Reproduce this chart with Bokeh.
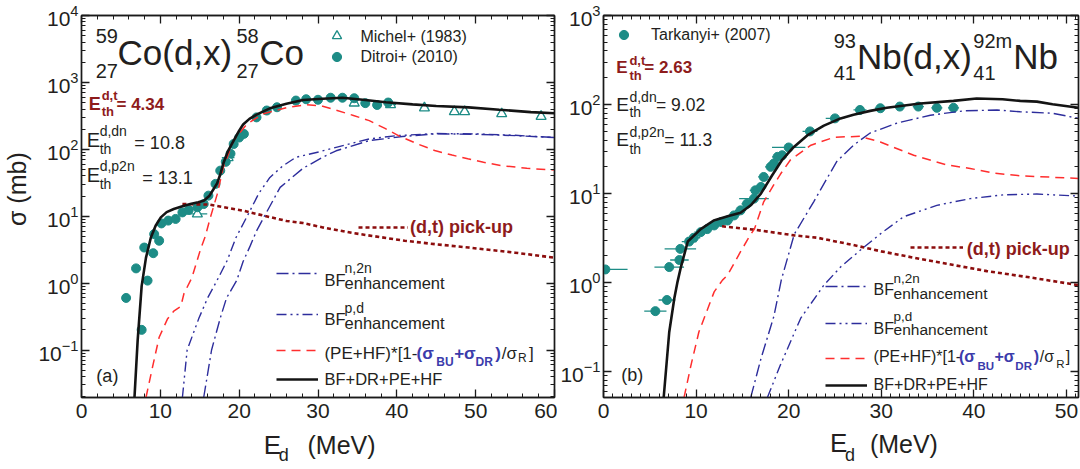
import numpy as np
from bokeh.plotting import figure
from bokeh.models import (Range1d, LinearAxis, LogAxis, LogTicker,
                          SingleIntervalTicker, Label, Legend, LegendItem)
from bokeh.layouts import row, column
from bokeh.embed import file_html
from bokeh.resources import INLINE

# ------------------------------------------------------------------
# DATA  (a) 59Co(d,x)58Co
# ------------------------------------------------------------------
co_total_E = [6.72, 7.12, 7.63, 8.18, 8.8, 9.4, 10.06, 10.8, 11.7, 12.7, 13.8, 14.8, 15.5,
              16.2, 16.8, 17.2, 17.6, 18.0, 18.6, 19.3, 20.0, 20.5, 21.3, 22.2, 23.9, 26.0,
              28.1, 30.6, 33.1, 36.0, 38.6, 42.0, 45.0, 49.1, 53.0, 57.0, 60.0]
co_total_s = [0.0195, 0.137, 0.9, 2.4, 4.8, 7.2, 9.6, 11.5, 12.8, 14.0, 15.2, 16.2, 17.0,
              20.0, 26.0, 31.0, 42, 62, 95, 135, 190, 235, 285, 330, 410, 480,
              545, 570, 590, 545, 505, 470, 445, 423, 390, 360, 346]

co_pe_E = [8.18, 9.0, 9.85, 10.9, 11.7, 12.6, 13.0, 14.0, 15.1, 15.7, 16.35, 17.2, 18.0, 19.3,
           21.0, 23.1, 26.0, 28.5, 30.6, 32.3, 34.5, 36.5, 38.5, 40.2, 42.5, 44.8, 47.0, 49.0,
           51.0, 53.2, 56.5, 60.0]
co_pe_s = [0.0195, 0.055, 0.155, 0.29, 0.38, 0.45, 0.7, 1.2, 3.2, 5.0, 9.6, 21, 54, 135,
           240, 340, 420, 465, 440, 385, 320, 268, 205, 160, 122, 96, 82, 72,
           64, 57, 52, 49]

co_n2n_E = [15.5, 16.5, 17.6, 18.4, 19.7, 20.5, 21.4, 22.2, 23.1, 25.2, 28.1, 30.6, 32.3,
            36.5, 40.7, 44.8, 50.0, 55.0, 60.0]
co_n2n_s = [0.0195, 0.1, 0.3, 0.6, 1.1, 2.1, 3.6, 6.0, 9.5, 27, 52, 76, 95,
            135, 155, 170, 168, 160, 150]

co_pd_E = [12.8, 13.4, 14.9, 16.0, 17.2, 18.5, 19.6, 21.2, 22.5, 23.9, 25.5, 27.2, 30.2,
           32.3, 36.5, 40.0, 45.0, 50.0, 55.0, 60.0]
co_pd_s = [0.0195, 0.1, 0.3, 0.6, 1.1, 2.2, 4.8, 11, 22, 38, 56, 76, 92,
           107, 143, 160, 172, 170, 162, 150]

co_dt_E = [12.8, 16.3, 20.5, 23.1, 26.0, 28.1, 30.6, 34.4, 41.0, 45.0, 49.1, 55.0, 60.0]
co_dt_s = [15.2, 14.9, 12.1, 10.2, 8.5, 7.9, 6.8, 5.6, 4.3, 3.8, 3.4, 2.85, 2.4]

ditroi_E = [5.66, 6.92, 7.63, 7.96, 8.38, 9.1, 9.22, 9.85, 10.14, 11.0, 11.94, 12.8, 13.6,
            14.7, 15.5, 16.1, 17.0, 17.6, 18.3, 18.9, 19.3, 20.0, 20.6, 22.2, 23.5, 24.8,
            27.2, 28.5, 30.0, 31.6, 33.1, 34.6, 36.0, 37.5, 38.9]
ditroi_s = [0.6, 1.66, 0.2, 3.4, 1.09, 2.8, 5.4, 4.3, 7.8, 8.6, 9.1, 11.4, 12.4,
            13.6, 15.2, 20.3, 30.4, 48, 65, 86, 120, 150, 170, 300, 380, 425,
            535, 560, 550, 590, 590, 580, 490, 460, 500]

michel_E = [14.7, 18.6, 34.6, 39.2, 43.5, 47.3, 48.6, 53.3, 58.3]
michel_s = [10.8, 75, 490, 465, 415, 365, 365, 340, 310]
michel_dE = [1.25, 0.8, 0.5, 0.7, 0.5, 0.5, 0.5, 0.5, 0.5]

# ------------------------------------------------------------------
# DATA  (b) 93Nb(d,x)92mNb
# ------------------------------------------------------------------
nb_total_E = [6.5, 7.1, 7.65, 8.0, 8.36, 9.1, 10.5, 11.9, 13.5, 14.8, 15.9, 17.0, 18.2, 19.3,
              20.5, 22.0, 23.8, 25.6, 27.0, 28.8, 30.6, 34.2, 37.8, 40.3, 43.1, 45.0, 46.8,
              48.5, 51.3]
nb_total_s = [0.0515, 0.28, 0.67, 1.03, 1.5, 2.9, 4.0, 5.0, 5.6, 6.1, 7.4, 10.0, 16.0, 24,
              33, 45, 58, 70, 77, 85, 92, 103, 110, 117, 115, 110, 108,
              101, 92]

nb_pe_E = [8.7, 9.45, 10.3, 11.95, 12.85, 13.4, 14.8, 15.9, 16.3, 17.3, 18.4, 19.1, 20.2,
           22.4, 24.9, 27.7, 29.9, 33.5, 37.1, 39.6, 42.1, 45.0, 51.3]
nb_pe_s = [0.0515, 0.119, 0.28, 0.79, 1.07, 1.22, 2.23, 3.5, 4.0, 8.1, 12.6, 16.5, 24,
           35, 43, 44, 38, 27, 21, 19.2, 17, 15.9, 14.8]

nb_n2n_E = [15.9, 17.0, 18.4, 19.2, 20.6, 22.7, 24.0, 25.2, 27.0, 28.8, 31.7, 35.3, 38.9,
            42.5, 45.0, 48.5, 51.3]
nb_n2n_s = [0.0515, 0.14, 0.42, 1.07, 3.5, 8.1, 14, 23, 35, 48, 62, 76, 85,
            87, 83, 80, 70]

nb_pd_E = [17.7, 19.1, 21.3, 23.8, 25.6, 28.1, 30.0, 32.4, 36.0, 39.6, 43.2, 46.8, 51.3]
nb_pd_s = [0.0515, 0.119, 0.40, 0.94, 1.5, 2.5, 3.6, 5.5, 7.4, 8.8, 9.7, 9.9, 9.4]

nb_dt_E = [12.8, 16.2, 20.6, 23.1, 27.0, 30.0, 34.2, 41.4, 46.0, 51.3]
nb_dt_s = [4.3, 3.95, 3.4, 3.2, 2.65, 2.25, 1.85, 1.35, 1.15, 0.94]

tark_E = [0.2, 5.6, 6.85, 7.1, 8.2, 8.3, 9.25, 9.75, 10.5, 11.2, 11.95, 12.7, 13.4, 14.1,
          14.8, 15.5, 16.25, 16.4, 17.0, 17.3, 18.05, 18.4, 18.8, 19.3, 20.0, 22.3, 25.0,
          27.7, 29.9, 32.0, 34.0, 36.0, 37.8]
tark_s = [1.41, 0.48, 0.64, 1.5, 1.8, 2.4, 2.9, 3.2, 3.7, 4.0, 4.4, 4.8, 5.0, 5.7,
          6.5, 7.7, 8.8, 10.9, 11.9, 15.4, 20, 21.8, 25.9, 27, 33, 50, 70,
          87, 91, 95, 95, 92, 92]
tark_dE = [2.4, 1.2, 0.9, 1.6, 1.0, 1.7, 0.8, 0.7, 0.7, 0.6, 0.6, 0.6, 0.6, 0.6,
           0.6, 0.6, 1.6, 0.6, 0.6, 0.6, 0.6, 0.6, 0.6, 0.6, 1.8, 0.8, 1.0,
           0.7, 0.6, 0.6, 0.6, 0.6, 0.6]

# ------------------------------------------------------------------
# STYLE / LAYOUT
# ------------------------------------------------------------------
FONT = "Liberation Sans"
TXT = "#231f20"
AX = "#1a1a1a"
TEAL = "#1d8c86"
RED = "#ff2e2e"
BLUE = "#2d2d9c"
MAROON = "#8c0d0d"
DKRED = "#8e1b1b"
BBLUE = "#3b3bab"

H1, H2 = 428, 40          # plot row / axis-title strip
TOP, BOT = 15, 31
L_W, L_BL, L_BR = 557, 77, 3
R_W, R_BL, R_BR = 523, 45, 2
CO_X, CO_Y = (0, 60), (0.0195, 1e4)
NB_X, NB_Y = (0, 51.3), (0.0515, 1e3)

# pixel grid of the reference picture, used to place annotation text
CO_REF = (76.7, 7.95, 282.4, 66.86)
NB_REF = (602.3, 9.29, 281.0, 89.0)


def ref2data(m, px, py):
    x0, kx, y0, ky = m
    return (px - x0) / kx, 10 ** ((y0 - py) / ky)


def style_axis(ax, show):
    ax.axis_line_color = AX
    ax.axis_line_width = 1.4
    ax.major_tick_line_color = AX
    ax.minor_tick_line_color = AX
    ax.major_tick_line_width = 1.3
    ax.minor_tick_line_width = 1.0
    ax.major_tick_in = 8
    ax.major_tick_out = 0
    ax.minor_tick_in = 4
    ax.minor_tick_out = 0
    ax.major_label_text_font = FONT
    if show:
        ax.major_label_text_color = TXT
        ax.major_label_text_font_size = "21px"
        ax.major_label_standoff = 3
    else:
        ax.major_label_text_color = None
        ax.major_label_text_font_size = "2px"
        ax.major_label_standoff = 0


def panel(W, BL, BR, xr, yr, minor):
    p = figure(width=W, height=H1, x_range=Range1d(*xr), y_range=Range1d(*yr),
               y_axis_type="log", output_backend="svg", toolbar_location=None,
               min_border_left=BL, min_border_right=BR,
               min_border_top=TOP, min_border_bottom=BOT)
    p.grid.visible = False
    p.outline_line_color = AX
    p.outline_line_width = 1.4
    p.outline_line_alpha = 1.0
    xt = SingleIntervalTicker(interval=10, num_minor_ticks=minor)
    yt = LogTicker(num_minor_ticks=10)
    p.xaxis.ticker = xt
    p.yaxis.ticker = yt
    style_axis(p.xaxis[0], True)
    style_axis(p.yaxis[0], True)
    p.xaxis[0].major_label_standoff = 6
    top = LinearAxis(ticker=xt)
    style_axis(top, False)
    p.add_layout(top, "above")
    rgt = LogAxis(ticker=yt)
    style_axis(rgt, False)
    p.add_layout(rgt, "right")
    return p


def strip(W, BL, BR, xrange):
    s = figure(width=W, height=H2, x_range=xrange, y_range=Range1d(0, H2),
               output_backend="svg", toolbar_location=None,
               x_axis_location=None, y_axis_location=None,
               min_border_left=BL, min_border_right=BR, min_border_top=0, min_border_bottom=0)
    s.outline_line_color = None
    s.xgrid.visible = False
    s.ygrid.visible = False
    return s


def put(p, m, px, py, text, size, color=TXT, style="normal", align="left"):
    e, s = ref2data(m, px, py)
    p.add_layout(Label(x=e, y=s, text=text, text_font=FONT, text_font_size=f"{size}px",
                       text_color=color, text_font_style=style, text_baseline="middle",
                       text_align=align))


def put_strip(s, m, px, py, text, size):
    e, _ = ref2data(m, px, py)
    s.add_layout(Label(x=e, y=H2 - (py - H1), text=text, text_font=FONT,
                       text_font_size=f"{size}px", text_color=TXT, text_baseline="middle",
                       text_align="left"))


def key(p, m, frame, r, x0, x1, yc, gh=20):
    fw, fh, xr, yr = frame
    e0, s = ref2data(m, x0, yc)
    e1, _ = ref2data(m, x1, yc)
    sx0 = (e0 - xr[0]) / (xr[1] - xr[0]) * fw
    sx1 = (e1 - xr[0]) / (xr[1] - xr[0]) * fw
    sy = (np.log10(s) - np.log10(yr[0])) / (np.log10(yr[1]) - np.log10(yr[0])) * fh
    leg = Legend(items=[LegendItem(label="x", renderers=[r])],
                 location=(int(round(sx0)), int(round(sy - gh / 2))),
                 glyph_width=max(1, int(round(sx1 - sx0))), glyph_height=gh,
                 label_height=gh, label_width=1, label_standoff=0,
                 padding=0, margin=0, spacing=0,
                 border_line_color=None, background_fill_alpha=0,
                 label_text_font_size="2px", label_text_color=None)
    p.add_layout(leg)


def curves(p, tot, pe, n2n, pd, dt):
    r_dt = p.line(dt[0], dt[1], line_color=MAROON, line_width=2.6, line_dash="4 3")
    r_pd = p.line(pd[0], pd[1], line_color=BLUE, line_width=1.4, line_dash="10 4 2 4 2 4")
    r_n2n = p.line(n2n[0], n2n[1], line_color=BLUE, line_width=1.4, line_dash="12 4 2 4")
    r_pe = p.line(pe[0], pe[1], line_color=RED, line_width=1.5, line_dash="9 6")
    r_tot = p.line(tot[0], tot[1], line_color="#141414", line_width=2.6)
    return r_tot, r_pe, r_n2n, r_pd, r_dt


# ------------------------------------------------------------------
# PANEL (a)
# ------------------------------------------------------------------
pL = panel(L_W, L_BL, L_BR, CO_X, CO_Y, 5)
fL = (L_W - L_BL - L_BR, H1 - TOP - BOT, CO_X, CO_Y)
yl = pL.yaxis[0]
yl.axis_label = "\u00a0" * 5 + "σ (mb)"
yl.axis_label_text_font = FONT
yl.axis_label_text_font_size = "25px"
yl.axis_label_text_font_style = "normal"
yl.axis_label_text_color = TXT
yl.axis_label_standoff = 4

mE, ms, mx = np.array(michel_E), np.array(michel_s), np.array(michel_dE)
pL.segment(mE - mx, ms, mE + mx, ms, line_color=TEAL, line_width=1.2)
r_mi = pL.scatter(michel_E, michel_s, marker="triangle", size=10, fill_color="white",
                  line_color=TEAL, line_width=1.3)
r_di = pL.scatter(ditroi_E, ditroi_s, marker="circle", size=9, fill_color=TEAL,
                  line_color=TEAL)
cL = curves(pL, (co_total_E, co_total_s), (co_pe_E, co_pe_s), (co_n2n_E, co_n2n_s),
            (co_pd_E, co_pd_s), (co_dt_E, co_dt_s))

# title
put(pL, CO_REF, 91, 35.5, "59", 20)
put(pL, CO_REF, 91, 70.5, "27", 20)
put(pL, CO_REF, 113, 52, "Co(d,x)", 35)
put(pL, CO_REF, 233, 35.5, "58", 20)
put(pL, CO_REF, 233, 70.5, "27", 20)
put(pL, CO_REF, 256, 52, "Co", 35)
# thresholds
put(pL, CO_REF, 84, 103.5, "E", 18, DKRED, "bold")
put(pL, CO_REF, 97, 94.5, "d,t", 13, DKRED, "bold")
put(pL, CO_REF, 97, 110.5, "th", 13, DKRED, "bold")
put(pL, CO_REF, 112, 103.5, "= 4.34", 17, DKRED, "bold")
put(pL, CO_REF, 82, 139.2, "E", 20)
put(pL, CO_REF, 95, 130, "d,dn", 14)
put(pL, CO_REF, 95, 148.5, "th", 14)
put(pL, CO_REF, 130, 142, "= 10.8", 18)
put(pL, CO_REF, 82, 174.2, "E", 20)
put(pL, CO_REF, 95, 165, "d,p2n", 14)
put(pL, CO_REF, 95, 183.5, "th", 14)
put(pL, CO_REF, 138, 177, "= 13.1", 18)
# data legend
key(pL, CO_REF, fL, r_mi, 320.5, 343.5, 35, gh=23)
key(pL, CO_REF, fL, r_di, 320.5, 343.5, 56, gh=23)
put(pL, CO_REF, 358, 36, "Michel+ (1983)", 16)
put(pL, CO_REF, 358, 56, "Ditroi+ (2010)", 16)
# pick-up
key(pL, CO_REF, fL, cL[4], 353.3, 403.3, 226.7)
put(pL, CO_REF, 408, 226.7, "(d,t) pick-up", 18, DKRED, "bold")
# curve legend
key(pL, CO_REF, fL, cL[2], 271.7, 313.3, 273.3)
key(pL, CO_REF, fL, cL[3], 271.7, 313.3, 313.3)
key(pL, CO_REF, fL, cL[1], 271.7, 313.3, 350)
key(pL, CO_REF, fL, cL[0], 271.7, 313.3, 378.3)
put(pL, CO_REF, 321.7, 279, "BF", 16.5)
put(pL, CO_REF, 342, 267.8, "n,2n", 14)
put(pL, CO_REF, 342, 282.5, "enhancement", 16.5)
put(pL, CO_REF, 321.7, 318, "BF", 16.5)
put(pL, CO_REF, 342, 307.4, "p,d", 14)
put(pL, CO_REF, 342, 322.3, "enhancement", 16.5)
put(pL, CO_REF, 321.7, 352.3, "(PE+HF)*[1-", 17)
put(pL, CO_REF, 414.5, 352.3, "(σ", 17, BBLUE, "bold")
put(pL, CO_REF, 434.5, 360.8, "BU", 12, BBLUE, "bold")
put(pL, CO_REF, 452.5, 352.3, "+σ", 17, BBLUE, "bold")
put(pL, CO_REF, 474, 360.8, "DR", 12, BBLUE, "bold")
put(pL, CO_REF, 494, 352.3, ")", 17, BBLUE, "bold")
put(pL, CO_REF, 500.5, 352.3, "/σ", 17)
put(pL, CO_REF, 517, 357.5, "R", 12)
put(pL, CO_REF, 528, 352.3, "]", 17)
put(pL, CO_REF, 321.7, 378, "BF+DR+PE+HF", 16.5)
put(pL, CO_REF, 91.7, 375, "(a)", 18)

sL = strip(L_W, L_BL, L_BR, pL.x_range)
put_strip(sL, CO_REF, 263, 444, "E", 26)
put_strip(sL, CO_REF, 278, 454, "d", 18)
put_strip(sL, CO_REF, 306.7, 444, "(MeV)", 25)

# ------------------------------------------------------------------
# PANEL (b)
# ------------------------------------------------------------------
pR = panel(R_W, R_BL, R_BR, NB_X, NB_Y, 10)
fR = (R_W - R_BL - R_BR, H1 - TOP - BOT, NB_X, NB_Y)

tE, ts, tx = np.array(tark_E), np.array(tark_s), np.array(tark_dE)
pR.segment(tE - tx, ts, tE + tx, ts, line_color=TEAL, line_width=1.3)
r_ta = pR.scatter(tark_E, tark_s, marker="circle", size=9, fill_color=TEAL, line_color=TEAL)
cR = curves(pR, (nb_total_E, nb_total_s), (nb_pe_E, nb_pe_s), (nb_n2n_E, nb_n2n_s),
            (nb_pd_E, nb_pd_s), (nb_dt_E, nb_dt_s))

put(pR, NB_REF, 833.3, 39.2, "93", 20)
put(pR, NB_REF, 833.3, 71.7, "41", 20)
put(pR, NB_REF, 856.7, 55, "Nb(d,x)", 35)
put(pR, NB_REF, 973.3, 39.2, "92m", 20)
put(pR, NB_REF, 973.3, 71.7, "41", 20)
put(pR, NB_REF, 1013.3, 55, "Nb", 35)

put(pR, NB_REF, 615, 65.8, "E", 17, DKRED, "bold")
put(pR, NB_REF, 628.3, 58.8, "d,t", 13, DKRED, "bold")
put(pR, NB_REF, 628.3, 73.8, "th", 13, DKRED, "bold")
put(pR, NB_REF, 643.3, 65.8, "= 2.63", 17, DKRED, "bold")
put(pR, NB_REF, 615, 103.3, "E", 19)
put(pR, NB_REF, 628.3, 95.5, "d,dn", 14)
put(pR, NB_REF, 628.3, 110.5, "th", 14)
put(pR, NB_REF, 655, 103.5, "= 9.02", 17.5)
put(pR, NB_REF, 615, 138.3, "E", 19)
put(pR, NB_REF, 628.3, 130, "d,p2n", 14)
put(pR, NB_REF, 628.3, 147, "th", 14)
put(pR, NB_REF, 663.3, 138.5, "= 11.3", 17.5)

key(pR, NB_REF, fR, r_ta, 611.5, 634.5, 33, gh=23)
put(pR, NB_REF, 650, 33.4, "Tarkanyi+ (2007)", 16)

key(pR, NB_REF, fR, cR[4], 910, 963.3, 246)
put(pR, NB_REF, 966.7, 247.5, "(d,t) pick-up", 18, DKRED, "bold")

key(pR, NB_REF, fR, cR[2], 825, 866.7, 285)
key(pR, NB_REF, fR, cR[3], 825, 866.7, 321.7)
key(pR, NB_REF, fR, cR[1], 825, 866.7, 356.7)
key(pR, NB_REF, fR, cR[0], 825, 866.7, 383.3)
put(pR, NB_REF, 873.3, 287.5, "BF", 16)
put(pR, NB_REF, 893.3, 277, "n,2n", 13.5)
put(pR, NB_REF, 893.3, 291.5, "enhancement", 15.5)
put(pR, NB_REF, 873.3, 326.7, "BF", 16)
put(pR, NB_REF, 893.3, 315, "p,d", 13.5)
put(pR, NB_REF, 893.3, 328, "enhancement", 15.5)
put(pR, NB_REF, 873.3, 354.3, "(PE+HF)*[1-", 16)
put(pR, NB_REF, 959, 354.3, "(σ", 16, BBLUE, "bold")
put(pR, NB_REF, 977.5, 364, "BU", 11.5, BBLUE, "bold")
put(pR, NB_REF, 994.5, 354.3, "+σ", 16, BBLUE, "bold")
put(pR, NB_REF, 1015.5, 364, "DR", 11.5, BBLUE, "bold")
put(pR, NB_REF, 1034, 354.3, ")", 16, BBLUE, "bold")
put(pR, NB_REF, 1040, 354.3, "/σ", 16)
put(pR, NB_REF, 1056.5, 362.5, "R", 11.5)
put(pR, NB_REF, 1066, 354.3, "]", 16)
put(pR, NB_REF, 873.3, 382.5, "BF+DR+PE+HF", 16)
put(pR, NB_REF, 620, 373.3, "(b)", 18)

sR = strip(R_W, R_BL, R_BR, pR.x_range)
put_strip(sR, NB_REF, 830, 442, "E", 26)
put_strip(sR, NB_REF, 845, 454, "d", 18)
put_strip(sR, NB_REF, 870, 443, "(MeV)", 25)

layout = column(row(pL, pR), row(sL, sR))
open("out.html", "w").write(file_html(layout, INLINE))
